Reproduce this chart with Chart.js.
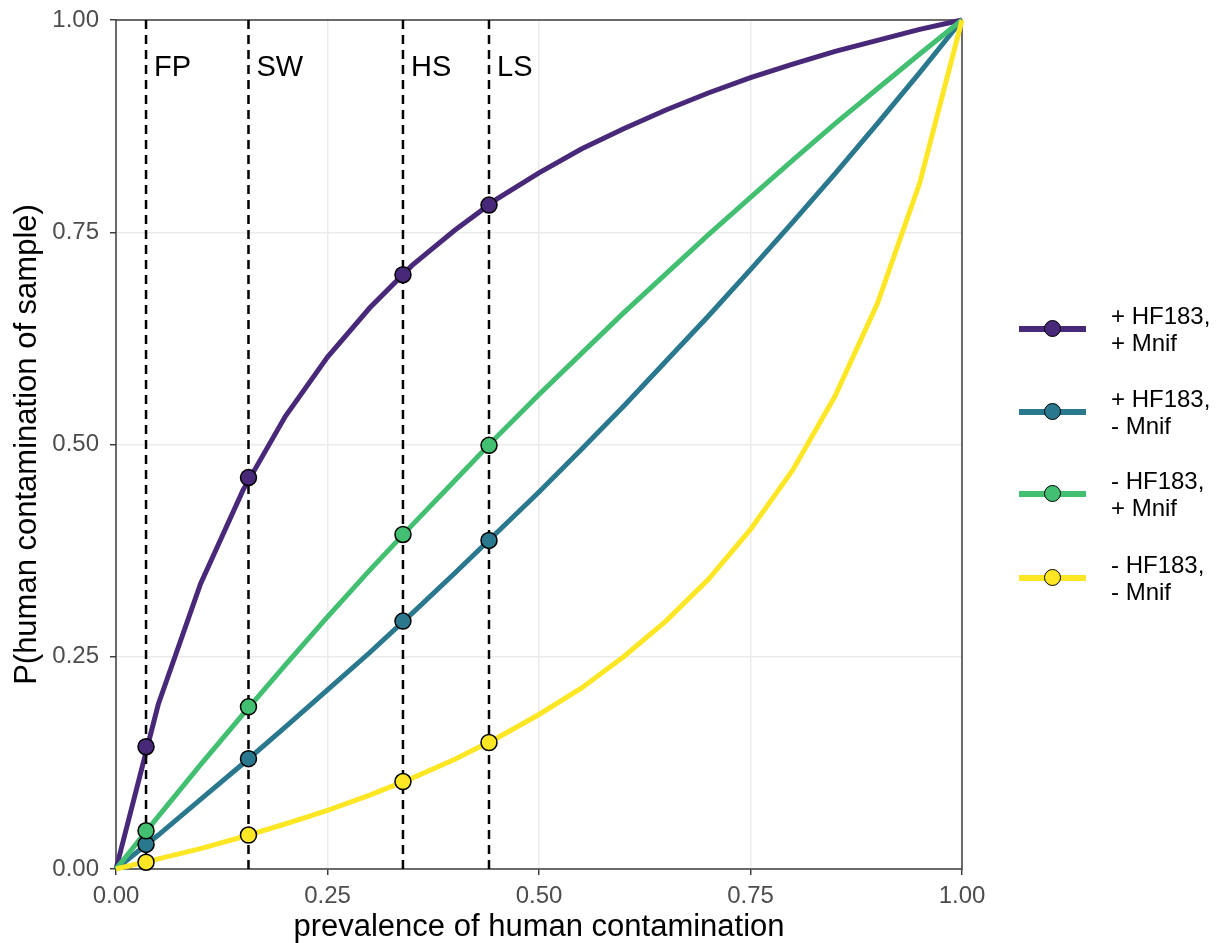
<!DOCTYPE html>
<html>
<head>
<meta charset="utf-8">
<script src="https://cdn.jsdelivr.net/npm/chart.js@4/dist/chart.umd.min.js"></script>
<style>
  html, body { margin:0; padding:0; background:#fff; }
  #wrap { position:relative; width:1217px; height:943px; }
  #chart { position:absolute; left:0; top:0; }
  .leg-item { position:absolute; left:1019px; height:80px; display:flex; align-items:center; }
  .leg-sym { position:relative; width:67px; height:6px; }
  .leg-dot { position:absolute; left:25px; top:-6px; width:15px; height:15px; border:1.5px solid #000; border-radius:50%; }
  .leg-text { margin-left:25px; font-family:'Liberation Sans', Arial, sans-serif; font-size:24px; line-height:27px; color:#000; }
</style>
</head>
<body>
<div id="wrap">
  <canvas id="chart" width="1217" height="943"></canvas>
</div>
<script>
// ---- data ----
const prevalence = [0, 0.05, 0.10, 0.15, 0.20, 0.25, 0.30, 0.35, 0.40, 0.45, 0.50, 0.55, 0.60, 0.65, 0.70, 0.75, 0.80, 0.85, 0.90, 0.95, 1.00];
const hfPosMnifPos = [0, 0.194, 0.336, 0.446, 0.533, 0.603, 0.661, 0.711, 0.752, 0.789, 0.820, 0.848, 0.872, 0.894, 0.914, 0.932, 0.948, 0.963, 0.976, 0.989, 1];
const hfPosMnifNeg = [0, 0.040, 0.082, 0.124, 0.167, 0.211, 0.255, 0.301, 0.348, 0.396, 0.444, 0.494, 0.545, 0.598, 0.651, 0.706, 0.762, 0.819, 0.878, 0.938, 1];
const hfNegMnifPos = [0, 0.062, 0.123, 0.182, 0.240, 0.297, 0.352, 0.405, 0.457, 0.509, 0.559, 0.607, 0.655, 0.701, 0.747, 0.791, 0.835, 0.878, 0.919, 0.960, 1];
const hfNegMnifNeg = [0, 0.012, 0.024, 0.038, 0.053, 0.069, 0.087, 0.107, 0.129, 0.154, 0.182, 0.213, 0.250, 0.292, 0.341, 0.400, 0.470, 0.557, 0.666, 0.808, 1];

const siteLabels = ['FP', 'SW', 'HS', 'LS'];
const sitePrevalence = [0.0355, 0.1566, 0.3392, 0.4409];
const sitePosPos = [0.144, 0.461, 0.700, 0.782];
const sitePosNeg = [0.029, 0.130, 0.292, 0.387];
const siteNegPos = [0.045, 0.191, 0.394, 0.499];
const siteNegNeg = [0.008, 0.040, 0.103, 0.149];

const seriesNames = [['+ HF183,', '+ Mnif'], ['+ HF183,', '- Mnif'], ['- HF183,', '+ Mnif'], ['- HF183,', '- Mnif']];
const seriesColors = ['#482878', '#2A788E', '#43BF71', '#FDE725'];
const tickValues = [0, 0.25, 0.5, 0.75, 1];

const FONT = "'Liberation Sans', Arial, sans-serif";

const curveSeries = [hfPosMnifPos, hfPosMnifNeg, hfNegMnifPos, hfNegMnifNeg];
const siteSeries = [sitePosPos, sitePosNeg, siteNegPos, siteNegNeg];

const datasets = [];
curveSeries.forEach((vals, i) => {
  datasets.push({
    label: seriesNames[i].join(' '),
    data: prevalence.map((p, k) => ({x: p, y: vals[k]})),
    borderColor: seriesColors[i],
    backgroundColor: seriesColors[i],
    borderWidth: 5,
    pointRadius: 0,
    pointHoverRadius: 0,
    tension: 0,
    fill: false,
    clip: false,
    order: 20 - i
  });
});
siteSeries.forEach((vals, i) => {
  datasets.push({
    label: seriesNames[i].join(' ') + ' (sites)',
    data: sitePrevalence.map((p, k) => ({x: p, y: vals[k]})),
    showLine: false,
    pointRadius: 8,
    pointHoverRadius: 8,
    pointBackgroundColor: seriesColors[i],
    pointBorderColor: '#000',
    pointBorderWidth: 1.5,
    clip: false,
    order: 10 - i,
    vlinesBefore: i === 0
  });
});

const panelBorder = {
  id: 'panelBorder',
  beforeDatasetsDraw(chart) {
    const a = chart.chartArea, ctx = chart.ctx;
    ctx.save();
    ctx.strokeStyle = '#333333';
    ctx.lineWidth = 1.4;
    ctx.strokeRect(a.left, a.top, a.right - a.left, a.bottom - a.top);
    ctx.restore();
  }
};

const vlines = {
  id: 'vlines',
  beforeDatasetDraw(chart, args) {
    const ds = chart.data.datasets[args.index];
    if (!ds.vlinesBefore) return;
    const ctx = chart.ctx, a = chart.chartArea, xs = chart.scales.x;
    ctx.save();
    ctx.strokeStyle = '#000';
    ctx.lineWidth = 2.5;
    ctx.setLineDash([9, 6]);
    sitePrevalence.forEach((p) => {
      const px = xs.getPixelForValue(p);
      ctx.beginPath();
      ctx.moveTo(px, a.top);
      ctx.lineTo(px, a.bottom);
      ctx.stroke();
    });
    ctx.setLineDash([]);
    ctx.fillStyle = '#000';
    ctx.font = '29px ' + FONT;
    ctx.textAlign = 'left';
    ctx.textBaseline = 'alphabetic';
    sitePrevalence.forEach((p, k) => {
      const px = xs.getPixelForValue(p);
      ctx.fillText(siteLabels[k], px + 8, 76);
    });
    ctx.restore();
  }
};

new Chart(document.getElementById('chart'), {
  type: 'line',
  data: { datasets },
  plugins: [panelBorder, vlines],
  options: {
    responsive: false,
    animation: false,
    events: [],
    layout: { padding: { left: 0, top: 20, right: 255, bottom: 0 } },
    plugins: { legend: { display: false }, tooltip: { enabled: false } },
    scales: {
      x: {
        type: 'linear',
        min: 0, max: 1,
        afterFit: s => { s.height = 74; s.paddingLeft = 0; s.paddingRight = 0; },
        afterBuildTicks: s => { s.ticks = tickValues.map(v => ({value: v})); },
        ticks: { callback: v => Number(v).toFixed(2), color: '#4d4d4d', font: { family: FONT, size: 24 }, padding: 7, maxRotation: 0, autoSkip: false },
        grid: { color: '#ebebeb', lineWidth: 1.5, drawTicks: true, tickLength: 6, tickColor: '#333333', tickWidth: 1.4 },
        border: { display: false },
        title: { display: true, text: 'prevalence of human contamination', color: '#000', font: { family: FONT, size: 31, lineHeight: 1 }, padding: { top: 0, bottom: 0 } }
      },
      y: {
        type: 'linear',
        min: 0, max: 1,
        afterFit: s => { s.width = 116; s.paddingTop = 0; s.paddingBottom = 0; },
        afterBuildTicks: s => { s.ticks = tickValues.map(v => ({value: v})); },
        ticks: { callback: v => Number(v).toFixed(2), color: '#4d4d4d', font: { family: FONT, size: 24 }, padding: 11, autoSkip: false },
        grid: { color: '#ebebeb', lineWidth: 1.5, drawTicks: true, tickLength: 6, tickColor: '#333333', tickWidth: 1.4 },
        border: { display: false },
        title: { display: true, text: 'P(human contamination of sample)', color: '#000', font: { family: FONT, size: 31, lineHeight: 1 }, padding: { top: 12, bottom: 0 } }
      }
    }
  }
});

// HTML legend
const wrap = document.getElementById('wrap');
const rowCenters = [329, 412, 494, 578];
seriesNames.forEach((name, i) => {
  const item = document.createElement('div');
  item.className = 'leg-item';
  item.style.top = (rowCenters[i] - 40) + 'px';
  const sym = document.createElement('div');
  sym.className = 'leg-sym';
  sym.style.background = seriesColors[i];
  const dot = document.createElement('div');
  dot.className = 'leg-dot';
  dot.style.background = seriesColors[i];
  sym.appendChild(dot);
  const txt = document.createElement('div');
  txt.className = 'leg-text';
  txt.innerHTML = name.join('<br>');
  item.appendChild(sym);
  item.appendChild(txt);
  wrap.appendChild(item);
});
</script>
</body>
</html>
